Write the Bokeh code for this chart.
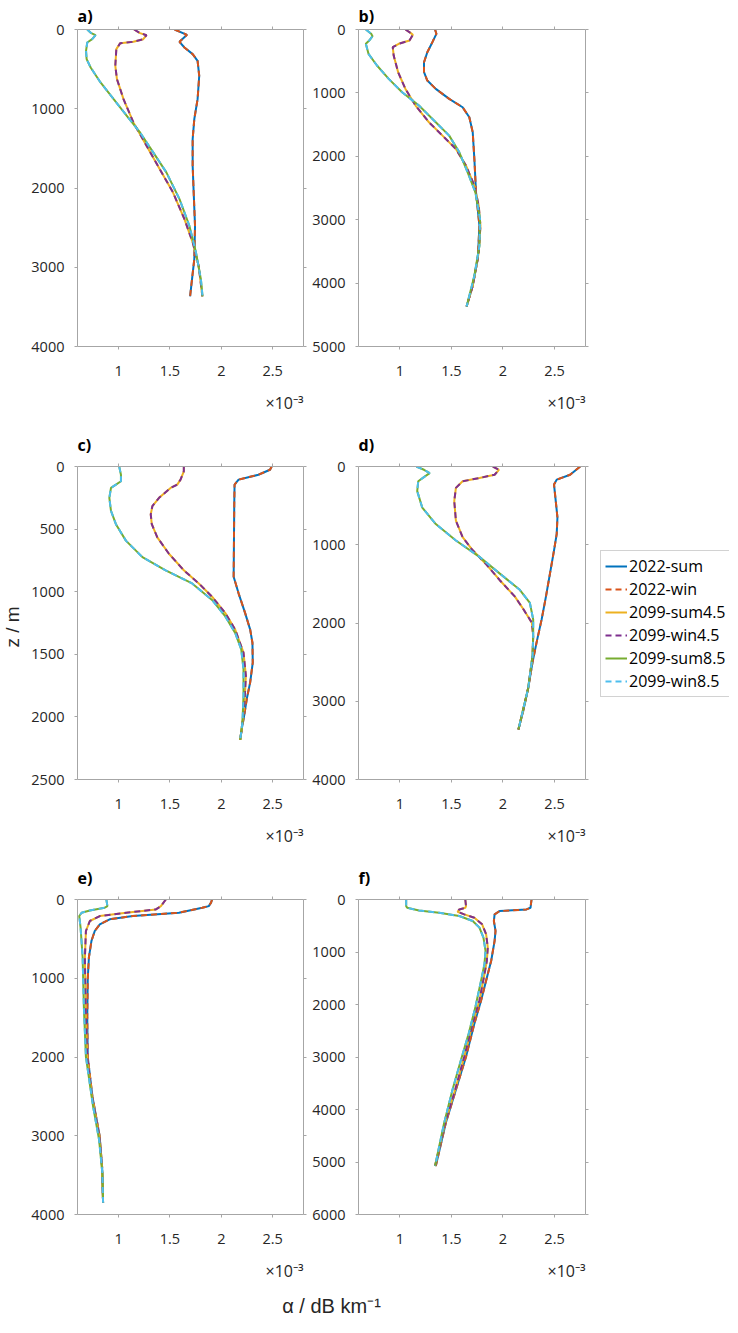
import math
from bokeh.plotting import figure
from bokeh.layouts import column, row
from bokeh.models import (Range1d, LinearAxis, FixedTicker, Title, Legend, LegendItem,
                          Label, NumeralTickFormatter)
from bokeh.embed import file_html
from bokeh.resources import INLINE

# ---------------- data (alpha in units of 1e-3 dB/km, depth z in m) ----------------
SERIES = ["2022-sum", "2022-win", "2099-sum4.5", "2099-win4.5", "2099-sum8.5", "2099-win8.5"]
COLORS = ["#0072BD", "#D95319", "#EDB120", "#7E2F8E", "#77AC30", "#4DBEEE"]
DASHES = ["solid", "6 4", "solid", "6 4", "solid", "6 4"]
X_TICKS = [1, 1.5, 2, 2.5]
X_MIN, X_MAX = 0.6, 2.8

# panel a
A_Z_2022 = [0, 67, 155, 227, 311, 395, 584, 879, 1131, 1383, 1719, 2055, 2476, 2897, 3149, 3367]
A_AL_2022 = [1.545, 1.666, 1.593, 1.641, 1.721, 1.769, 1.785, 1.769, 1.737, 1.721, 1.721, 1.731, 1.744, 1.737, 1.715, 1.696]
A_Z_45 = [0, 46, 72, 122, 155, 172, 248, 458, 626, 879, 1173, 1467, 1762, 2055, 2392, 2686, 2980, 3316, 3367]
A_AL_45 = [1.151, 1.208, 1.272, 1.240, 1.144, 1.016, 0.978, 0.968, 0.984, 1.048, 1.144, 1.272, 1.401, 1.529, 1.641, 1.721, 1.779, 1.811, 1.815]
A_Z_85 = [0, 46, 72, 122, 164, 269, 374, 479, 668, 879, 1089, 1299, 1551, 1803, 2140, 2476, 2812, 3149, 3367]
A_AL_85 = [0.695, 0.734, 0.776, 0.743, 0.695, 0.683, 0.689, 0.728, 0.824, 0.952, 1.080, 1.209, 1.337, 1.465, 1.593, 1.689, 1.753, 1.801, 1.817]

# panel b
B_Z_2022 = [0, 68, 200, 358, 516, 674, 805, 937, 1095, 1226, 1384, 1621, 2042, 2568, 3095, 3621, 4042, 4368]
B_AL_2022 = [1.342, 1.355, 1.316, 1.267, 1.235, 1.235, 1.267, 1.349, 1.479, 1.609, 1.674, 1.707, 1.723, 1.739, 1.772, 1.756, 1.707, 1.648]
B_Z_45 = [0, 53, 84, 174, 226, 279, 411, 674, 937, 1200, 1463, 1674, 1884, 2147, 2463, 2779, 3095, 3516, 4042, 4368]
B_AL_45 = [1.055, 1.104, 1.127, 1.094, 0.990, 0.932, 0.941, 0.984, 1.055, 1.153, 1.283, 1.414, 1.544, 1.642, 1.723, 1.765, 1.782, 1.765, 1.707, 1.648]
B_Z_85 = [0, 68, 105, 174, 226, 384, 568, 779, 989, 1200, 1463, 1674, 1937, 2253, 2568, 2989, 3411, 3884, 4368]
B_AL_85 = [0.671, 0.723, 0.736, 0.704, 0.671, 0.697, 0.779, 0.893, 1.023, 1.186, 1.349, 1.479, 1.577, 1.658, 1.733, 1.778, 1.772, 1.723, 1.648]

# panel c
C_Z_2022 = [0, 26, 66, 105, 145, 300, 600, 880, 1013, 1171, 1303, 1408, 1566, 1724, 1855, 1987, 2092, 2184]
C_AL_2022 = [2.490, 2.474, 2.361, 2.168, 2.129, 2.126, 2.123, 2.120, 2.168, 2.232, 2.281, 2.303, 2.306, 2.281, 2.248, 2.223, 2.200, 2.184]
C_Z_45 = [0, 39, 105, 145, 171, 250, 316, 382, 461, 566, 697, 829, 934, 1040, 1171, 1303, 1487, 1671, 1882, 2040, 2184]
C_AL_45 = [1.635, 1.635, 1.603, 1.571, 1.506, 1.394, 1.329, 1.313, 1.323, 1.377, 1.490, 1.635, 1.781, 1.910, 2.039, 2.135, 2.216, 2.239, 2.226, 2.206, 2.184]
C_Z_85 = [0, 66, 118, 145, 171, 250, 355, 461, 592, 724, 829, 934, 1066, 1198, 1329, 1461, 1619, 1829, 2040, 2184]
C_AL_85 = [1.006, 1.023, 1.023, 0.974, 0.926, 0.910, 0.926, 0.974, 1.071, 1.232, 1.458, 1.716, 1.910, 2.039, 2.135, 2.194, 2.216, 2.216, 2.206, 2.184]

# panel d
D_Z_2022 = [0, 105, 168, 231, 483, 651, 861, 1071, 1366, 1660, 1954, 2248, 2500, 2836, 3130, 3361]
D_AL_2022 = [2.749, 2.651, 2.521, 2.495, 2.515, 2.528, 2.521, 2.495, 2.456, 2.417, 2.375, 2.326, 2.287, 2.244, 2.195, 2.150]
D_Z_45 = [0, 42, 105, 147, 189, 273, 441, 693, 903, 1071, 1239, 1450, 1660, 1828, 1996, 2164, 2416, 2836, 3361]
D_AL_45 = [1.902, 1.961, 1.919, 1.772, 1.609, 1.544, 1.528, 1.544, 1.609, 1.707, 1.830, 1.967, 2.114, 2.200, 2.280, 2.293, 2.287, 2.244, 2.150]
D_Z_85 = [0, 42, 84, 126, 189, 315, 525, 735, 945, 1155, 1366, 1576, 1744, 1954, 2164, 2416, 2836, 3361]
D_AL_85 = [1.160, 1.235, 1.290, 1.244, 1.179, 1.169, 1.218, 1.349, 1.544, 1.772, 1.967, 2.163, 2.261, 2.293, 2.293, 2.287, 2.244, 2.150]

# panel e
E_Z_2022 = [0, 40, 84, 105, 168, 210, 252, 315, 400, 526, 736, 1000, 1500, 2000, 2500, 3000, 3400, 3850]
E_AL_2022 = [1.910, 1.900, 1.878, 1.814, 1.588, 1.138, 0.913, 0.817, 0.768, 0.736, 0.711, 0.700, 0.695, 0.700, 0.745, 0.815, 0.840, 0.849]
E_Z_45 = [0, 84, 126, 168, 210, 273, 400, 736, 1000, 1500, 2000, 2500, 3000, 3400, 3850]
E_AL_45 = [1.460, 1.412, 1.363, 1.074, 0.817, 0.720, 0.682, 0.672, 0.675, 0.682, 0.695, 0.740, 0.812, 0.838, 0.849]
E_Z_85 = [0, 84, 105, 139, 168, 210, 358, 736, 1367, 1998, 2629, 3050, 3471, 3850]
E_AL_85 = [0.881, 0.891, 0.865, 0.720, 0.640, 0.617, 0.630, 0.650, 0.662, 0.682, 0.752, 0.810, 0.842, 0.849]

# panel f
F_Z_2022 = [0, 158, 189, 221, 284, 410, 599, 788, 1166, 1545, 1923, 2364, 2995, 3625, 4256, 5076]
F_AL_2022 = [2.277, 2.267, 2.228, 1.967, 1.919, 1.912, 1.928, 1.919, 1.886, 1.837, 1.788, 1.723, 1.642, 1.544, 1.446, 1.349]
F_Z_45 = [0, 126, 158, 189, 233, 284, 347, 473, 662, 914, 1166, 1419, 1923, 2364, 2995, 3625, 4256, 5076]
F_AL_45 = [1.635, 1.642, 1.635, 1.577, 1.560, 1.625, 1.723, 1.798, 1.837, 1.853, 1.844, 1.821, 1.772, 1.707, 1.625, 1.537, 1.440, 1.342]
F_Z_85 = [0, 126, 158, 208, 252, 315, 410, 536, 725, 977, 1230, 1545, 2049, 2554, 3058, 3625, 4256, 5076]
F_AL_85 = [1.062, 1.062, 1.072, 1.186, 1.381, 1.577, 1.707, 1.772, 1.811, 1.831, 1.821, 1.788, 1.733, 1.668, 1.593, 1.511, 1.430, 1.342]

# (depth max, depth tick step, series) ; summer and winter profiles coincide
PANELS = {
    "a)": (4000, 1000, [(A_Z_2022, A_AL_2022)] * 2 + [(A_Z_45, A_AL_45)] * 2 + [(A_Z_85, A_AL_85)] * 2),
    "b)": (5000, 1000, [(B_Z_2022, B_AL_2022)] * 2 + [(B_Z_45, B_AL_45)] * 2 + [(B_Z_85, B_AL_85)] * 2),
    "c)": (2500, 500, [(C_Z_2022, C_AL_2022)] * 2 + [(C_Z_45, C_AL_45)] * 2 + [(C_Z_85, C_AL_85)] * 2),
    "d)": (4000, 1000, [(D_Z_2022, D_AL_2022)] * 2 + [(D_Z_45, D_AL_45)] * 2 + [(D_Z_85, D_AL_85)] * 2),
    "e)": (4000, 1000, [(E_Z_2022, E_AL_2022)] * 2 + [(E_Z_45, E_AL_45)] * 2 + [(E_Z_85, E_AL_85)] * 2),
    "f)": (6000, 1000, [(F_Z_2022, F_AL_2022)] * 2 + [(F_Z_45, F_AL_45)] * 2 + [(F_Z_85, F_AL_85)] * 2),
}
Y_LABEL = "z / m"
X_LABEL = "α / dB km⁻¹"
X_MULT = "×10⁻³"

GRAY = "#a6a6a6"
TXT = "#262626"
FONT = "Open Sans"


def style_axis(ax, ticks, labels_on, fmt, standoff=10):
    ax.ticker = FixedTicker(ticks=ticks)
    ax.formatter = NumeralTickFormatter(format=fmt)
    ax.axis_line_color = GRAY
    ax.axis_line_width = 1
    ax.major_tick_line_color = GRAY
    ax.major_tick_in = 0
    ax.major_tick_out = 3
    ax.minor_tick_line_color = None
    ax.major_label_text_font = FONT
    if labels_on:
        ax.major_label_text_color = TXT
        ax.major_label_text_font_size = "14.5px"
        ax.major_label_standoff = standoff
    else:
        ax.major_label_text_color = None
        ax.major_label_text_font_size = "1px"
        ax.major_label_standoff = 0


def make_panel(label, width, height, bl, br, bt, bb, title_standoff):
    ymax, ystep, series = PANELS[label]
    p = figure(width=width, height=height, x_range=Range1d(X_MIN, X_MAX), y_range=Range1d(ymax, 0),
               min_border_left=bl, min_border_right=br, min_border_top=bt, min_border_bottom=bb,
               output_backend="svg", toolbar_location=None)
    p.outline_line_color = None
    p.xgrid.visible = False
    p.ygrid.visible = False
    p.background_fill_color = "white"
    p.border_fill_color = "white"
    yt = list(range(0, ymax + 1, ystep))
    style_axis(p.xaxis[0], X_TICKS, True, "0.[0]", standoff=16)
    style_axis(p.yaxis[0], yt, True, "0", standoff=10)
    top = LinearAxis()
    style_axis(top, X_TICKS, False, "0.[0]")
    p.add_layout(top, "above")
    rgt = LinearAxis()
    style_axis(rgt, yt, False, "0")
    p.add_layout(rgt, "right")

    p.title.text = label
    p.title.align = "left"
    p.title.text_font = FONT
    p.title.text_font_size = "16px"
    p.title.text_font_style = "bold"
    p.title.text_color = "black"
    p.title.standoff = title_standoff

    mult = Title(text=X_MULT, align="right", text_font=FONT, text_font_size="16px",
                 text_font_style="normal", text_color=TXT, standoff=22)
    p.add_layout(mult, "below")

    for (z, al), color, dash in zip(series, COLORS, DASHES):
        p.line(x=al, y=z, line_color=color, line_width=2, line_dash=dash)
    return p


def blank(width, height, xr=(0, 1), **kw):
    f = figure(width=width, height=height, x_range=Range1d(*xr), y_range=Range1d(0, 1),
               x_axis_type=None, y_axis_type=None, output_backend="svg", toolbar_location=None, **kw)
    f.outline_line_color = None
    f.background_fill_color = "white"
    f.border_fill_color = "white"
    return f


H1, H2, H3 = 424, 433, 436
fa = make_panel("a)", 308, H1, 77, 5, 29, 78, 0)
fb = make_panel("b)", 287, H1, 50, 10, 29, 78, 0)
fc = make_panel("c)", 285, H2, 54, 5, 40, 76, 15)
fd = make_panel("d)", 287, H2, 50, 10, 40, 76, 15)
fe = make_panel("e)", 308, H3, 77, 5, 40, 79, 15)
ff = make_panel("f)", 287, H3, 50, 10, 40, 79, 15)

# shared y label: text starts at its anchor and runs upward
zf = blank(23, H2, min_border_left=0, min_border_right=0, min_border_top=40, min_border_bottom=76)
zf.add_layout(Label(x=0.5, y=132, x_units="data", y_units="screen", text=Y_LABEL, angle=math.pi / 2,
                    text_align="left", text_baseline="middle", text_font="Liberation Sans",
                    text_font_size="19px", text_color=TXT))

# legend (sample lines drawn outside this figure's visible range)
lf = blank(134, H2, xr=(10, 11), min_border_left=0, min_border_right=0, min_border_top=40,
           min_border_bottom=76)
items = []
for name, (z, al), color, dash in zip(SERIES, PANELS["d)"][2], COLORS, DASHES):
    r = lf.line(x=al, y=z, line_color=color, line_width=2, line_dash=dash)
    items.append(LegendItem(label=name, renderers=[r]))
leg = Legend(items=items, location=(5, 82), margin=0, padding=4, spacing=1,
             glyph_width=22, glyph_height=20, label_height=20, label_standoff=2,
             label_text_font=FONT, label_text_font_size="16px", label_text_color="black",
             border_line_color=GRAY, border_line_width=1, background_fill_color="white",
             background_fill_alpha=1.0)
lf.add_layout(leg)

# shared x label
bf = blank(729, 24, min_border_left=77, min_border_right=144, min_border_top=0, min_border_bottom=0)
bf.add_layout(Label(x=0.5, y=12, x_units="data", y_units="screen", text=X_LABEL,
                    text_align="center", text_baseline="middle", text_font="Liberation Sans",
                    text_font_size="20px", text_color=TXT))

layout = column(row(fa, fb), row(zf, fc, fd, lf), row(fe, ff), bf)

open("out.html", "w").write(file_html(layout, INLINE))
